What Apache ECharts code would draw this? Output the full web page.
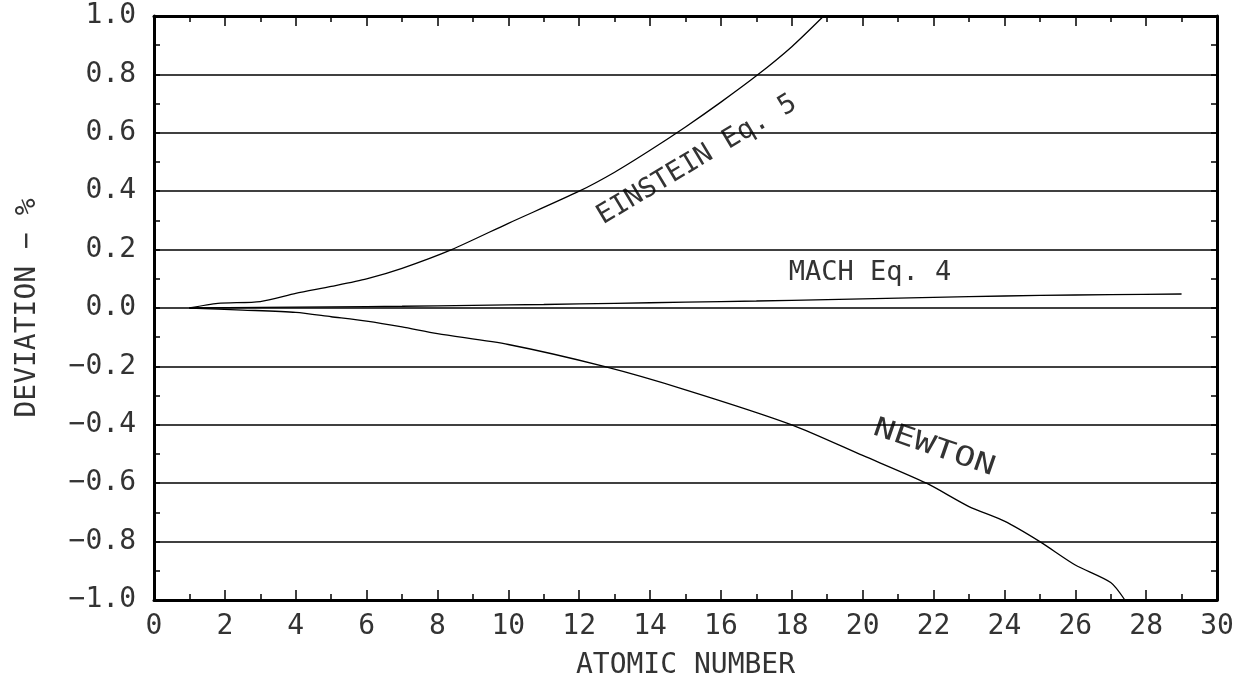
<!DOCTYPE html>
<html>
<head>
<meta charset="utf-8">
<script src="https://cdn.jsdelivr.net/npm/echarts@6/dist/echarts.min.js"></script>
<style>html,body{margin:0;padding:0;background:#fff;}#c{width:1246px;height:689px;}</style>
</head>
<body>
<div id="c"></div>
<script>
var einstein = [[1,0],[1.8,0.016],[3,0.022],[4,0.05],[5,0.074],[6,0.10],[7,0.136],[8.4,0.2],[10,0.29],[12,0.4],[13,0.465],[14,0.54],[15,0.62],[16,0.705],[17,0.795],[18,0.895],[18.9,1.0]];
var mach = [[1,0],[3,0.002],[5,0.004],[7,0.006],[9,0.009],[11,0.012],[13,0.016],[15,0.02],[17,0.024],[19,0.029],[21,0.034],[23,0.039],[25,0.043],[27,0.046],[29,0.048]];
var newton = [[1,0],[2.5,-0.007],[4,-0.015],[5,-0.03],[6,-0.045],[7,-0.065],[8,-0.088],[10,-0.125],[12.7,-0.2],[15,-0.28],[18,-0.4],[20,-0.505],[21.8,-0.6],[23,-0.68],[24,-0.73],[25,-0.8],[26,-0.88],[27,-0.94],[27.4,-1.0]];
var xTicks = {min:0, max:30, interval:2};
var yTicks = {min:-1, max:1, interval:0.2};
var labels = {einstein:'EINSTEIN Eq. 5', mach:'MACH Eq. 4', newton:'NEWTON'};

var FONT = 'DejaVu Sans Mono';
var TXT = '#333';
var chart = echarts.init(document.getElementById('c'), null, {renderer:'canvas'});
function axisCommon(pos, showLabel, isX){
  return {
    type:'value', position:pos,
    min: isX ? xTicks.min : yTicks.min,
    max: isX ? xTicks.max : yTicks.max,
    interval: isX ? xTicks.interval : yTicks.interval,
    axisLine:{show:true, onZero:false, lineStyle:{color:'#000', width:3}},
    axisTick:{show:true, inside:true, length: isX ? 10 : 6, lineStyle:{color:'#000', width:1.5}},
    minorTick:{show:true, splitNumber:2, length:6, lineStyle:{color:'#000', width:1.5}},
    splitLine:{show:false},
    axisLabel:{show:showLabel, fontFamily:FONT, fontSize:28, color:TXT}
  };
}
var xb = axisCommon('bottom', true, true);
xb.axisLabel.margin = 13;
xb.name = 'ATOMIC NUMBER'; xb.nameLocation = 'middle'; xb.nameGap = 52;
xb.nameTextStyle = {fontFamily:FONT, fontSize:28, color:TXT};
var xt = axisCommon('top', false, true);
var yl = axisCommon('left', true, false);
yl.axisLabel.margin = 18;
yl.axisLabel.formatter = function(v){ return v.toFixed(1).replace('-', '\u2212'); };
yl.splitLine = {show:true, lineStyle:{color:'#000', width:1.5}};
yl.name = 'DEVIATION \u2212 %'; yl.nameLocation = 'middle'; yl.nameGap = 112;
yl.nameTextStyle = {fontFamily:FONT, fontSize:28, color:TXT};
var yr = axisCommon('right', false, false);

function line(d){ return {type:'line', data:d, showSymbol:false, smooth:0.25, lineStyle:{color:'#000', width:1.3}, xAxisIndex:0, yAxisIndex:0, z:5}; }

chart.setOption({
  animation:false,
  backgroundColor:'#fff',
  grid:{left:154, right:29, top:16, bottom:89, containLabel:false},
  xAxis:[xb, xt],
  yAxis:[yl, yr],
  series:[line(einstein), line(mach), line(newton)],
  graphic:[
    {type:'text', x:697, y:160, rotation:31*Math.PI/180, style:{text:labels.einstein, font:'27px '+FONT, fill:TXT, textAlign:'center', textVerticalAlign:'middle'}},
    {type:'text', x:870, y:273, style:{text:labels.mach, font:'27px '+FONT, fill:TXT, textAlign:'center', textVerticalAlign:'middle'}},
    {type:'text', x:934, y:448, rotation:-19*Math.PI/180, scaleX:1.3, style:{text:labels.newton, font:'27px '+FONT, fill:TXT, textAlign:'center', textVerticalAlign:'middle'}}
  ]
});
</script>
</body>
</html>
